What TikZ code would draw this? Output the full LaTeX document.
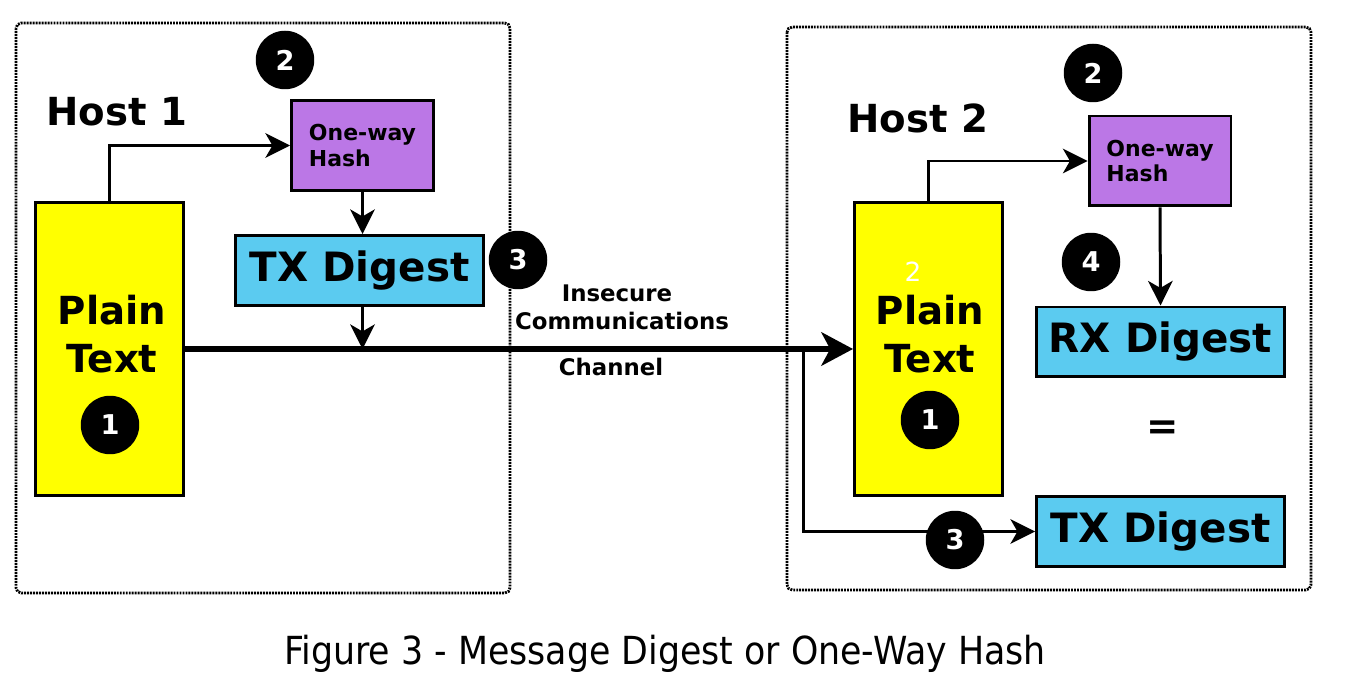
\documentclass[tikz,border=0pt]{standalone}
\usepackage{fontspec}
\setmainfont{DejaVu Sans}
\usepackage{xcolor}
\usepackage{tikz}
\usetikzlibrary{arrows.meta}

\definecolor{plainyellow}{RGB}{255,255,0}
\definecolor{hashpurple}{RGB}{187,119,230}
\definecolor{digestblue}{RGB}{91,203,240}

\begin{document}
\begin{tikzpicture}[x=0.02cm, y=-0.02cm,
	hostframe/.style={line width=1.6pt, dash pattern=on 1.1pt off 0.6pt, rounded corners=3pt},
	plainbox/.style={draw, line width=1.7pt, fill=plainyellow, minimum width=2.96cm, minimum height=5.88cm, inner sep=0pt},
	hashbox/.style={draw, line width=1.7pt, fill=hashpurple, minimum width=2.84cm, minimum height=1.8cm, inner sep=0pt, align=left, font=\bfseries\fontsize{12.5}{14.7}\selectfont},
	digestbox/.style={draw, line width=1.7pt, fill=digestblue, minimum width=4.96cm, minimum height=1.4cm, inner sep=0pt, font=\bfseries\fontsize{23}{26}\selectfont},
	bigtext/.style={align=center, inner sep=0pt, font=\bfseries\fontsize{22}{27}\selectfont},
	chantext/.style={inner sep=0pt, font=\bfseries\fontsize{13}{15}\selectfont},
	numdot/.style={circle, fill=black, minimum size=1.17cm, inner sep=0pt, text=white, font=\bfseries\fontsize{15.5}{17}\selectfont},
	wire/.style={line width=1.7pt, -{Stealth[length=14pt, width=14pt, inset=4pt]}},
	channel/.style={line width=3.4pt, -{Stealth[length=18pt, width=19pt, inset=5pt]}}]
	\useasboundingbox (0, 0) rectangle (1365, 688);
	% Host frames:
	\draw[hostframe] (16, 23) rectangle (510, 593);
	\draw[hostframe] (787, 27) rectangle (1311, 590);
	% Host 1:
	\node[bigtext](HL1) at (117, 112){Host 1};
	\node[plainbox](PT1) at (109.5, 349){};
	\node[bigtext](PL1) at (112, 334){Plain\\Text};
	\node[hashbox](OH1) at (362.5, 145.5){One-way\\Hash};
	\node[digestbox](TX1) at (359.5, 270.5){TX Digest};
	\draw[wire] (PT1.north) |- (OH1.west);
	\draw[wire] (OH1.south) -- (OH1.south |- TX1.north);
	\draw[wire] (TX1.south -| OH1.south) -- (OH1.south |- PT1.east);
	% Host 2:
	\node[bigtext](HL2) at (918, 118){Host 2};
	\node[plainbox](PT2) at (928.5, 349){};
	\node[bigtext](PL2) at (930, 334){Plain\\Text};
	\node[text=white, inner sep=0pt, font=\fontsize{15}{17}\selectfont](W2) at (913, 272){2};
	\node[hashbox](OH2) at (1160, 161){One-way\\Hash};
	\node[digestbox](RX2) at (1160.5, 342){RX Digest};
	\node[bigtext](EQ2) at (1163, 430){=};
	\node[digestbox](TX2) at (1160.5, 531.5){TX Digest};
	\draw[wire] (PT2.north) |- (OH2.west);
	\draw[wire] (OH2.south) -- (RX2.north);
	% Channel:
	\draw[channel] (PT1.east) -- (PT2.west);
	\coordinate (S1) at (803, 349);
	\draw[wire] (S1) |- (TX2.west);
	\node[chantext](CH1) at (617, 293){Insecure};
	\node[chantext](CH2) at (622, 321){Communications};
	\node[chantext](CH3) at (611, 367){Channel};
	% Numbered dots:
	\node[numdot](D2a) at (285, 60){2};
	\node[numdot](D3a) at (518, 260){3};
	\node[numdot](D1a) at (110, 425){1};
	\node[numdot](D2b) at (1093, 73){2};
	\node[numdot](D4b) at (1091, 262){4};
	\node[numdot](D1b) at (930, 420){1};
	\node[numdot](D3b) at (955, 540){3};
	% Caption:
	\node[xscale=0.9, inner sep=0pt, font=\fontsize{22}{26}\selectfont](CAP) at (665, 654){Figure 3 - Message Digest or One-Way Hash};
\end{tikzpicture}
\end{document}
